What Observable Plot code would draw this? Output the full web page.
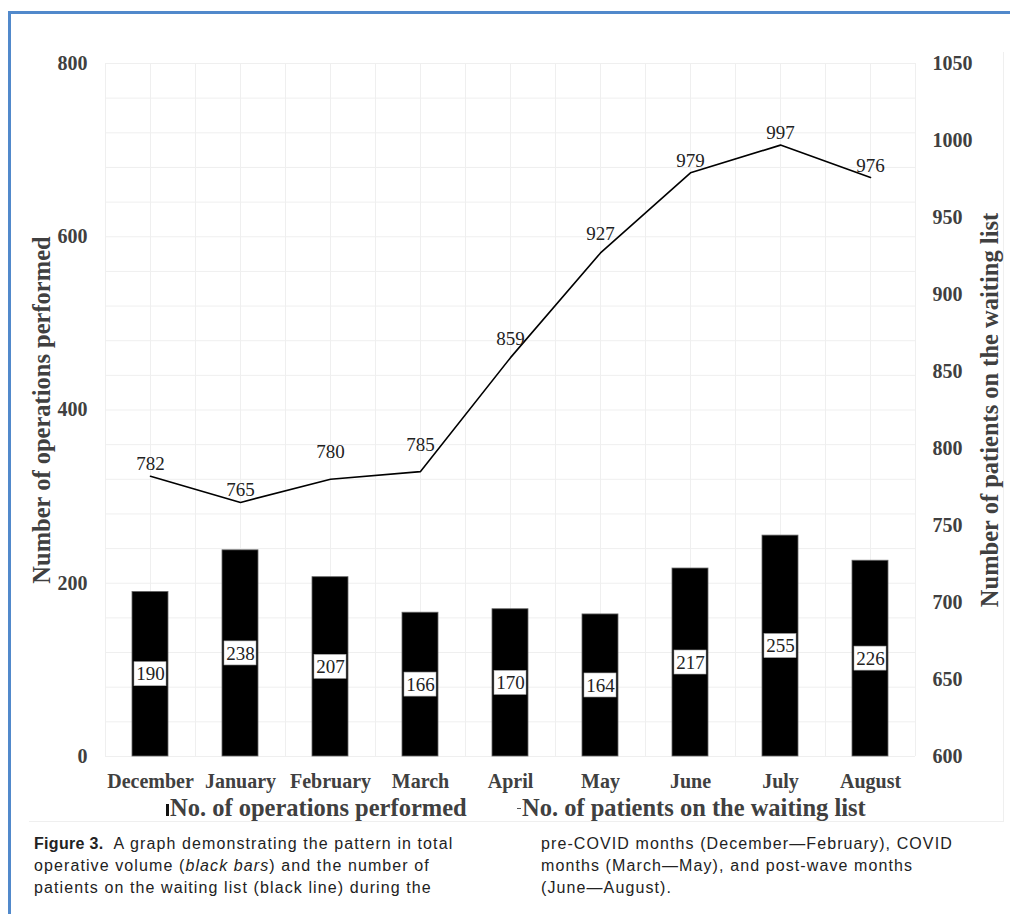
<!DOCTYPE html>
<html>
<head>
<meta charset="utf-8">
<script src="https://cdn.jsdelivr.net/npm/d3@7"></script>
<script src="https://cdn.jsdelivr.net/npm/@observablehq/plot@0.6"></script>
<style>
  html, body { margin: 0; padding: 0; background: #fff; overflow: hidden; }
  #page { position: relative; width: 1010px; height: 914px; overflow: hidden; background: #fff; }
  #blueTop { position: absolute; left: 8px; top: 11px; width: 1002px; height: 3px; background: #5189cb; }
  #blueLeft { position: absolute; left: 8px; top: 11px; width: 3px; height: 903px; background: #5189cb; }
  #inner { position: absolute; left: 29px; top: 52px; width: 974px; height: 769px; border-right: 1px solid #efefef; border-bottom: 1px solid #efefef; }
  #chart { position: absolute; left: 0; top: 0; }
  #chart svg { overflow: visible; }
  .legend { position: absolute; top: 793px; font: bold 24.5px "Liberation Serif", "Times New Roman", serif; color: #404040; white-space: nowrap; line-height: 30px; }
  .mk-bar { display: inline-block; width: 3px; height: 12px; background: #111; margin-right: 1px; vertical-align: baseline; }
  .mk-line { display: inline-block; width: 4px; height: 1.5px; background: #555; margin-right: 1px; vertical-align: middle; position: relative; top: -2px; }
  .cap { position: absolute; top: 833px; font: 16px "Liberation Sans", Arial, sans-serif; color: #222; line-height: 22px; white-space: nowrap; letter-spacing: 1.1px; }
  .cap b { font-weight: bold; letter-spacing: 0.3px; }
</style>
</head>
<body>
<div id="page">
  <div id="blueTop"></div>
  <div id="blueLeft"></div>
  <div id="inner"></div>
  <div id="chart"></div>
  <div class="legend" style="left:166px"><span class="mk-bar"></span>No. of operations performed</div>
  <div class="legend" style="left:517px"><span class="mk-line"></span>No. of patients on the waiting list</div>
  <div class="cap" style="left:34px"><b>Figure 3.</b>&nbsp; A graph demonstrating the pattern in total<br>operative volume (<i>black bars</i>) and the number of<br>patients on the waiting list (black line) during the</div>
  <div class="cap" style="left:541px">pre-COVID months (December—February), COVID<br>months (March—May), and post-wave months<br>(June—August).</div>
</div>
<script>
// ---- data ----
const months = ["December", "January", "February", "March", "April", "May", "June", "July", "August"];
const operations = [190, 238, 207, 166, 170, 164, 217, 255, 226];
const waitingList = [782, 765, 780, 785, 859, 927, 979, 997, 976];
const leftTicks = [0, 200, 400, 600, 800];
const rightTicks = [600, 650, 700, 750, 800, 850, 900, 950, 1000, 1050];
const leftDomain = [0, 800];
const rightDomain = [600, 1050];
const leftTitle = "Number of operations performed";
const rightTitle = "Number of patients on the waiting list";

const rows = months.map((m, i) => ({month: m, ops: operations[i], wait: waitingList[i], i}));
const k = (leftDomain[1] - leftDomain[0]) / (rightDomain[1] - rightDomain[0]);
const toLeft = v => leftDomain[0] + (v - rightDomain[0]) * k;
const fromLeft = v => rightDomain[0] + (v - leftDomain[0]) / k;

const W = 1010, H = 800, MT = 63, MB = 44, ML = 105, MR = 95;
const unitsPerPx = (leftDomain[1] - leftDomain[0]) / (H - MT - MB);
const boxHalf = 12 * unitsPerPx; // half-height of the white label box (12px)

const gridColor = "#efefef";
const axisText = {fontSize: 20, fontWeight: "bold", fill: "#404040"};
const lineLabel = (filter, dy) => Plot.text(rows, {
  filter, x: "month", y: d => toLeft(d.wait), text: d => String(d.wait), dy, fontSize: 19, fill: "#222"
});

const chart = Plot.plot({
  width: W,
  height: H,
  marginTop: MT,
  marginBottom: MB,
  marginLeft: ML,
  marginRight: MR,
  style: {fontFamily: "'Liberation Serif', 'Times New Roman', serif", background: "transparent", overflow: "visible"},
  x: {domain: months, paddingInner: 0.6, paddingOuter: 0.3, axis: null, label: null},
  y: {domain: leftDomain, axis: null, label: null},
  marks: [
    Plot.ruleY(d3.range(leftDomain[0], leftDomain[1] + 1, 40), {stroke: gridColor, strokeWidth: 1}),
    Plot.ruleX(months, {x: d => d, stroke: gridColor}),
    Plot.ruleX(months, {x: d => d, dx: -45, stroke: gridColor}),
    Plot.ruleX(months.slice(-1), {x: d => d, dx: 45, stroke: gridColor}),
    Plot.axisX({tickSize: 0, tickPadding: 17, label: null, ...axisText}),
    Plot.axisY(leftTicks, {anchor: "left", tickSize: 0, tickPadding: 18, label: null, ...axisText}),
    Plot.axisY(rightTicks.map(toLeft), {anchor: "right", tickSize: 0, tickPadding: 17, label: null,
      tickFormat: d => String(Math.round(fromLeft(d))), ...axisText}),
    Plot.barY(rows, {x: "month", y: "ops", fill: "#000", stroke: "#666", strokeWidth: 0.8}),
    Plot.barY(rows, {x: "month", y1: d => d.ops / 2 - boxHalf, y2: d => d.ops / 2 + boxHalf,
      insetLeft: 2, insetRight: 2, fill: "#fff", stroke: "#aaa", strokeWidth: 0.6}),
    Plot.text(rows, {x: "month", y: d => d.ops / 2, text: d => String(d.ops), fontSize: 19, fill: "#222"}),
    Plot.line(rows, {x: "month", y: d => toLeft(d.wait), stroke: "#000", strokeWidth: 1.6}),
    lineLabel(d => [0, 1, 6, 7, 8].includes(d.i), -12),
    lineLabel(d => [2, 3].includes(d.i), -27),
    lineLabel(d => [4, 5].includes(d.i), -19),
    Plot.text([leftTitle], {text: d => d, frameAnchor: "left", textAnchor: "middle", dx: -63, rotate: -90,
      fontSize: 24.5, fontWeight: "bold", fill: "#404040"}),
    Plot.text([rightTitle], {text: d => d, frameAnchor: "right", textAnchor: "middle", dx: 75, rotate: -90,
      fontSize: 24.5, fontWeight: "bold", fill: "#404040"})
  ]
});
document.getElementById("chart").appendChild(chart);
</script>
</body>
</html>
